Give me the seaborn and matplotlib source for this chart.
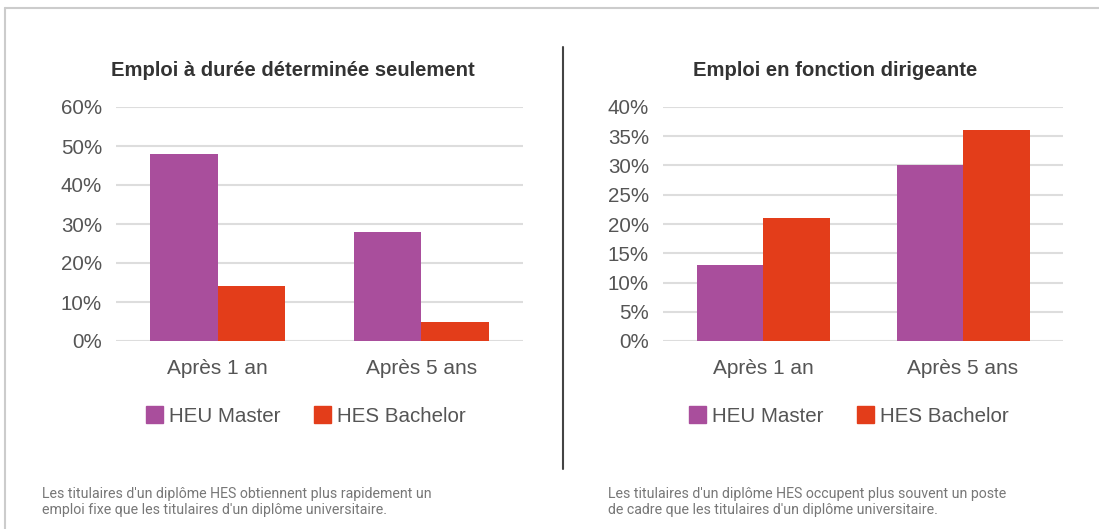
import pandas as pd
import seaborn as sns
import matplotlib.pyplot as plt
from matplotlib.lines import Line2D
from matplotlib.ticker import FuncFormatter

# données
periodes = ['Après 1 an', 'Après 5 ans']
diplomes = ['HEU Master', 'HES Bachelor']
cdd_heu = [48, 28]
cdd_hes = [14, 5]
cadre_heu = [13, 30]
cadre_hes = [21, 36]

titre_gauche = 'Emploi à durée déterminée seulement'
titre_droite = 'Emploi en fonction dirigeante'
note_gauche = ("Les titulaires d'un diplôme HES obtiennent plus rapidement un\n"
               "emploi fixe que les titulaires d'un diplôme universitaire.")
note_droite = ("Les titulaires d'un diplôme HES occupent plus souvent un poste\n"
               "de cadre que les titulaires d'un diplôme universitaire.")

couleurs = {'HEU Master': '#A94E9C', 'HES Bachelor': '#E33D1A'}


def tableau(heu, hes):
    lignes = []
    for p, a, b in zip(periodes, heu, hes):
        lignes.append({'periode': p, 'diplome': diplomes[0], 'valeur': a})
        lignes.append({'periode': p, 'diplome': diplomes[1], 'valeur': b})
    return pd.DataFrame(lignes)


sns.set_style('white')
plt.rcParams['font.family'] = ['Liberation Sans', 'DejaVu Sans']

fig = plt.figure(figsize=(10.99, 5.29), dpi=100)
ax1 = fig.add_axes([116 / 1099, 1 - 341 / 529, 407 / 1099, 234 / 529])
ax2 = fig.add_axes([663 / 1099, 1 - 341 / 529, 400 / 1099, 234 / 529])


def dessiner(ax, df, ymax, pas, titre, xtitre, xleg, note, xnote):
    sns.barplot(data=df, x='periode', y='valeur', hue='diplome',
                hue_order=diplomes, palette=couleurs, width=0.665, gap=0,
                saturation=1, linewidth=0, ax=ax, zorder=3)
    ax.set_ylim(0, ymax)
    ax.set_yticks(range(0, ymax + 1, pas))
    ax.yaxis.set_major_formatter(FuncFormatter(lambda v, _: f'{v:.0f}%'))
    ax.grid(axis='y', color='#dddddd', linewidth=1.5, zorder=0)
    ax.set_axisbelow(True)
    sns.despine(ax=ax, left=True, bottom=True)
    ax.set_xlabel('')
    ax.set_ylabel('')
    ax.tick_params(axis='y', length=0, pad=10, labelsize=14.8, labelcolor='#555555')
    ax.tick_params(axis='x', length=0, pad=13, labelsize=15, labelcolor='#555555')
    ax.get_legend().remove()

    fig.text(xtitre, 1 - 71 / 529, titre, ha='center', va='center',
             fontsize=14.6, fontweight='bold', color='#333333')

    poignees = [plt.Rectangle((0, 0), 1, 1, color=couleurs[d]) for d in diplomes]
    ax.legend(poignees, diplomes, loc='center', ncol=2, frameon=False,
              bbox_to_anchor=(xleg, 1 - 416 / 529), bbox_transform=fig.transFigure,
              fontsize=14.8, handlelength=0.85, handleheight=0.85,
              handletextpad=0.3, columnspacing=1.6, labelcolor='#555555')

    fig.text(xnote, 1 - 502 / 529, note, ha='left', va='center',
             fontsize=10.2, color='#777777', family=['Roboto', 'DejaVu Sans'],
             linespacing=1.2)


dessiner(ax1, tableau(cdd_heu, cdd_hes), 60, 10, titre_gauche,
         293 / 1099, 306 / 1099, note_gauche, 42 / 1099)
dessiner(ax2, tableau(cadre_heu, cadre_hes), 40, 5, titre_droite,
         835 / 1099, 849 / 1099, note_droite, 608 / 1099)

# cadre et séparateur
fig.add_artist(Line2D([5 / 1099, 1], [1 - 8 / 529, 1 - 8 / 529],
                      color='#cccccc', linewidth=1.5))
fig.add_artist(Line2D([5 / 1099, 5 / 1099], [0, 1 - 8 / 529],
                      color='#cccccc', linewidth=1.5))
fig.add_artist(Line2D([563 / 1099, 563 / 1099], [1 - 469 / 529, 1 - 47 / 529],
                      color='#444444', linewidth=1.5))

fig.savefig('out.png', dpi=100)
